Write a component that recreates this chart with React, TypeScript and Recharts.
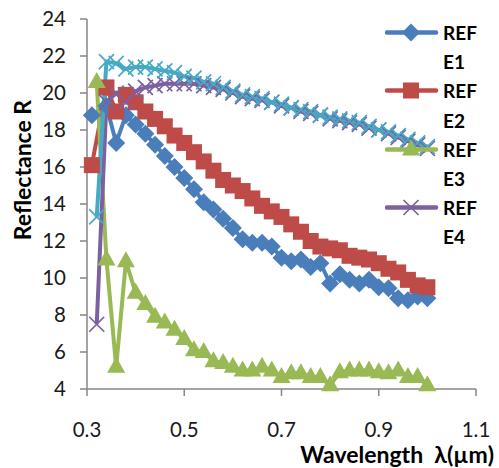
import { LineChart, Line, XAxis, YAxis, Label } from 'recharts';

// wavelength grid (µm); REFE1/REFE2 start a touch earlier
const WAVE = [
  0.32, 0.34, 0.36, 0.38, 0.4, 0.42, 0.44, 0.46, 0.48, 0.5, 0.52, 0.54, 0.56, 0.58, 0.6, 0.62, 0.64, 0.66,
  0.68, 0.7, 0.72, 0.74, 0.76, 0.78, 0.8, 0.82, 0.84, 0.86, 0.88, 0.9, 0.92, 0.94, 0.96, 0.98, 1.0,
];
const WAVE_EARLY = [
  0.31, 0.34, 0.36, 0.38, 0.4, 0.42, 0.44, 0.46, 0.48, 0.5, 0.52, 0.54, 0.56, 0.58, 0.6, 0.62, 0.64, 0.66,
  0.68, 0.7, 0.72, 0.74, 0.76, 0.78, 0.8, 0.82, 0.84, 0.86, 0.88, 0.9, 0.92, 0.94, 0.96, 0.98, 1.0,
];

const REFE1 = [
  18.8, 19.3, 17.3, 18.8, 18.3, 17.8, 17.2, 16.6, 16.0, 15.4, 14.8, 14.1, 13.7, 13.2, 12.7, 12.1, 11.9, 11.9,
  11.7, 11.1, 10.9, 11.0, 10.6, 10.8, 9.7, 10.2, 9.9, 9.7, 9.9, 9.5, 9.45, 8.9, 8.8, 9.0, 8.9,
];
const REFE2 = [
  16.1, 20.3, 19.0, 19.9, 19.5, 19.0, 18.6, 18.2, 17.7, 17.3, 16.8, 16.3, 15.8, 15.3, 15.0, 14.7, 14.3, 13.9,
  13.6, 13.3, 12.9, 12.5, 12.0, 11.7, 11.6, 11.5, 11.2, 11.1, 11.0, 10.8, 10.5, 10.3, 9.9, 9.6, 9.5,
];
const REFE3 = [
  20.6, 11.0, 5.2, 10.9, 9.2, 8.6, 7.9, 7.6, 7.2, 6.7, 6.1, 6.0, 5.5, 5.4, 5.2, 5.0, 5.0, 5.2,
  5.0, 4.65, 4.85, 4.85, 4.65, 4.65, 4.2, 4.9, 5.0, 5.0, 5.0, 4.9, 4.85, 5.0, 4.65, 4.65, 4.2,
];
const REFE4 = [
  7.5, 19.5, 20.0, 19.5, 20.1, 20.3, 20.4, 20.5, 20.5, 20.5, 20.5, 20.4, 20.3, 20.2, 20.0, 19.8, 19.7, 19.6,
  19.5, 19.3, 19.2, 19.0, 18.9, 18.8, 18.6, 18.5, 18.4, 18.3, 18.1, 18.0, 17.8, 17.6, 17.4, 17.2, 17.0,
];
const REFE5 = [
  13.3, 21.7, 21.6, 21.3, 21.4, 21.4, 21.3, 21.2, 21.1, 20.9, 20.8, 20.6, 20.5, 20.3, 20.1, 19.9, 19.8, 19.7,
  19.5, 19.4, 19.2, 19.1, 19.0, 18.8, 18.7, 18.6, 18.5, 18.4, 18.2, 18.0, 17.9, 17.7, 17.5, 17.3, 17.1,
];

const X_TICKS = [0.3, 0.5, 0.7, 0.9, 1.1];
const Y_TICKS = [4, 6, 8, 10, 12, 14, 16, 18, 20, 22, 24];

type Marker = 'diamond' | 'square' | 'triangle' | 'cross';

const SERIES: { key: string; name: [string, string]; xs: number[]; ys: number[]; color: string; marker: Marker; legend: boolean }[] = [
  { key: 'e1', name: ['REF', 'E1'], xs: WAVE_EARLY, ys: REFE1, color: '#4A7EBB', marker: 'diamond', legend: true },
  { key: 'e2', name: ['REF', 'E2'], xs: WAVE_EARLY, ys: REFE2, color: '#BE4B48', marker: 'square', legend: true },
  { key: 'e3', name: ['REF', 'E3'], xs: WAVE, ys: REFE3, color: '#98B954', marker: 'triangle', legend: true },
  { key: 'e4', name: ['REF', 'E4'], xs: WAVE, ys: REFE4, color: '#7D60A0', marker: 'cross', legend: true },
  { key: 'e5', name: ['REF', 'E5'], xs: WAVE, ys: REFE5, color: '#46AAC5', marker: 'cross', legend: false },
];

const AXIS = '#868686';
const FONT = 'Lato, "Open Sans", sans-serif';

function drawMarker(marker: Marker, cx: number, cy: number, color: string, key?: string | number) {
  if (marker === 'diamond') {
    const r = 9;
    return <polygon key={key} points={`${cx},${cy - r} ${cx + r},${cy} ${cx},${cy + r} ${cx - r},${cy}`} fill={color} />;
  }
  if (marker === 'square') {
    return <rect key={key} x={cx - 8} y={cy - 8} width={16} height={16} fill={color} />;
  }
  if (marker === 'triangle') {
    return <polygon key={key} points={`${cx},${cy - 10} ${cx + 9},${cy + 6} ${cx - 9},${cy + 6}`} fill={color} />;
  }
  const r = 7.5;
  return (
    <path key={key} d={`M${cx - r},${cy - r}L${cx + r},${cy + r}M${cx - r},${cy + r}L${cx + r},${cy - r}`} stroke={color} strokeWidth={1.7} fill="none" />
  );
}

function ChartLegend() {
  return (
    <div style={{ position: 'absolute', left: 385, top: 18, fontFamily: FONT, fontWeight: 700, fontSize: 19, lineHeight: '29.2px', color: '#000' }}>
      {SERIES.filter((s) => s.legend).map((s) => (
        <div key={s.key}>
          <div style={{ display: 'flex', alignItems: 'center', height: 29.2 }}>
            <svg width={55} height={29} style={{ display: 'block' }}>
              <line x1={2} y1={14.5} x2={51} y2={14.5} stroke={s.color} strokeWidth={4.5} strokeLinecap="round" />
              {drawMarker(s.marker, 26, 14.5, s.color)}
            </svg>
            <span style={{ marginLeft: 3 }}>{s.name[0]}</span>
          </div>
          <div style={{ paddingLeft: 58, height: 29.2 }}>{s.name[1]}</div>
        </div>
      ))}
    </div>
  );
}

export default function App() {
  return (
    <div style={{ position: 'absolute', left: 0, top: 0, width: 499, height: 468, background: '#fff' }}>
      <LineChart width={499} height={468} margin={{ top: 19, right: 23, left: 0, bottom: 0 }}>
        <XAxis
          type="number"
          dataKey="x"
          domain={[0.3, 1.1]}
          ticks={X_TICKS}
          tickFormatter={(v: number) => v.toFixed(1)}
          height={79}
          tickSize={7}
          tickMargin={26}
          axisLine={{ stroke: AXIS, strokeWidth: 1.5 }}
          tickLine={{ stroke: AXIS, strokeWidth: 1.5 }}
          tick={{ fill: '#1a1a1a', fontSize: 20.5, fontFamily: FONT }}
        >
          <Label
            content={() => (
              <text
                x={494}
                y={463}
                textAnchor="end"
                fontFamily={FONT}
                fontWeight={700}
                fontSize={23}
                fill="#000"
                style={{ whiteSpace: 'pre' }}
              >
                {'Wavelength  λ(µm)'}
              </text>
            )}
          />
        </XAxis>
        <YAxis
          type="number"
          dataKey="y"
          domain={[4, 24]}
          ticks={Y_TICKS}
          width={87}
          tickSize={7}
          tickMargin={14}
          axisLine={{ stroke: AXIS, strokeWidth: 1.5 }}
          tickLine={{ stroke: AXIS, strokeWidth: 1.5 }}
          tick={{ fill: '#1a1a1a', fontSize: 20.5, fontFamily: FONT }}
        >
          <Label
            content={() => (
              <text x={31} y={170} transform="rotate(-90, 31, 170)" textAnchor="middle" fontFamily={FONT} fontWeight={700} fontSize={23} fill="#000">
                Reflectance R
              </text>
            )}
          />
        </YAxis>
        {SERIES.map((s) => (
          <Line
            key={s.key}
            data={s.ys.map((y, i) => ({ x: s.xs[i], y }))}
            dataKey="y"
            name={s.name.join('')}
            type="linear"
            stroke={s.color}
            strokeWidth={4}
            isAnimationActive={false}
            dot={(p: any) => drawMarker(s.marker, p.cx, p.cy, s.color, p.key ?? p.index)}
            activeDot={false}
          />
        ))}
      </LineChart>
      <ChartLegend />
    </div>
  );
}
